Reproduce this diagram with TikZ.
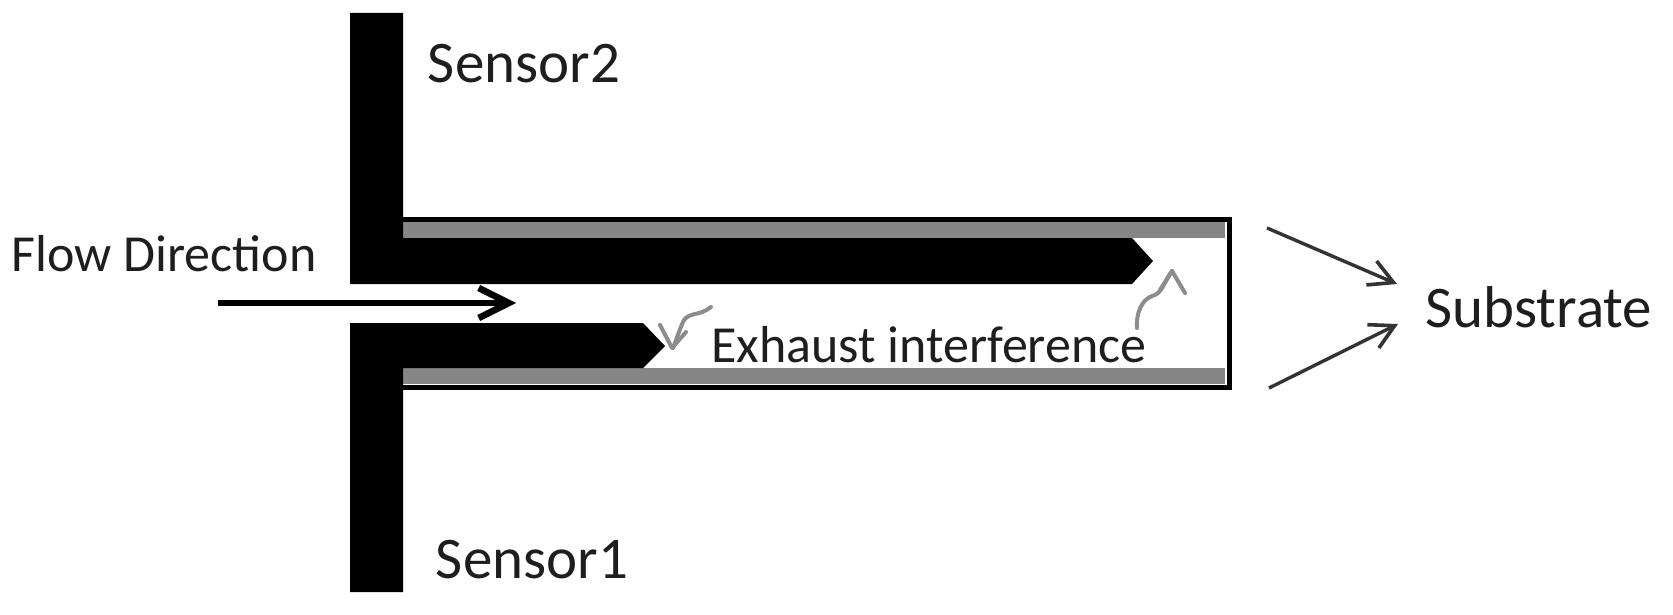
\documentclass[tikz,border=0pt]{standalone}
\usepackage{fontspec}
\setmainfont{Carlito}
\usetikzlibrary{arrows.meta}
\definecolor{wallgray}{HTML}{868686}
\definecolor{inkgray}{HTML}{8C8C8C}
\definecolor{txt}{HTML}{1E1E1E}
\tikzset{
  x=1pt,y=-1pt,
  solidpart/.style={fill=black,draw=none},
  wall/.style={fill=wallgray,draw=none},
  tube/.style={draw=black,line width=5pt,line join=miter},
  biglabel/.style={font=\fontsize{59}{62}\selectfont,text=txt,inner sep=0pt},
  smalllabel/.style={font=\fontsize{52}{56}\selectfont,text=txt,inner sep=0pt},
  flowarrow/.style={draw=black,line width=5.5pt,-{Straight Barb[length=30pt,width=30pt,line width=6.5pt]}},
  subarrow/.style={draw=black!80,line width=3.4pt,-{Straight Barb[length=24pt,width=26pt,line width=3.6pt]}},
  squiggle/.style={draw=inkgray,line width=4pt,line cap=round,line join=round}
}
\begin{document}
\begin{tikzpicture}
\useasboundingbox (0,0) rectangle (1673,615);
\fill[white] (0,0) rectangle (1673,615);
% tube walls
\fill[wall] (403,222) rectangle (1225,238);
\fill[wall] (403,368) rectangle (1225,384);
\draw[tube] (403,219.5) -- (1229,219.5) -- (1229,387) -- (403,387);
% sensors
\fill[solidpart] (350,13) -- (403,13) -- (403,238) -- (1132,238) -- (1153,261) -- (1132,284) -- (350,284) -- cycle;
\fill[solidpart] (350,592) -- (403,592) -- (403,368) -- (643,368) -- (665,346) -- (643,323) -- (350,323) -- cycle;
% arrows
\coordinate (flowS) at (218,303);
\coordinate (flowE) at (516,303);
\draw[flowarrow] (flowS) -- (flowE);
\coordinate (subAs) at (1267,228);
\coordinate (subAe) at (1397,284);
\coordinate (subBs) at (1269,388);
\coordinate (subBe) at (1398,324);
\draw[subarrow] (subAs) -- (subAe);
\draw[subarrow] (subBs) -- (subBe);
% labels
\node[biglabel] (sensorB) at (524,64) {Sensor2};
\node[biglabel] (sensorA) at (532,560) {Sensor1};
\node[smalllabel] (flow) at (164,254) {Flow Direction};
\node[smalllabel] (exhaust) at (929,345) {Exhaust interference};
\node[biglabel] (substrate) at (1539,307) {Substrate};
% hand-drawn exhaust marks
\draw[squiggle] (711,307) .. controls (700,316) and (690,312) .. (684,320) .. controls (680,328) and (677,338) .. (673,348);
\draw[squiggle] (660,325) -- (672,348) -- (686,332);
\draw[squiggle] (1137,328) .. controls (1136,312) and (1142,300) .. (1152,296) .. controls (1162,294) and (1164,282) .. (1172,271);
\draw[squiggle] (1172,271) -- (1185,293);
\draw[squiggle] (1172,271) -- (1160,290);
\end{tikzpicture}
\end{document}
